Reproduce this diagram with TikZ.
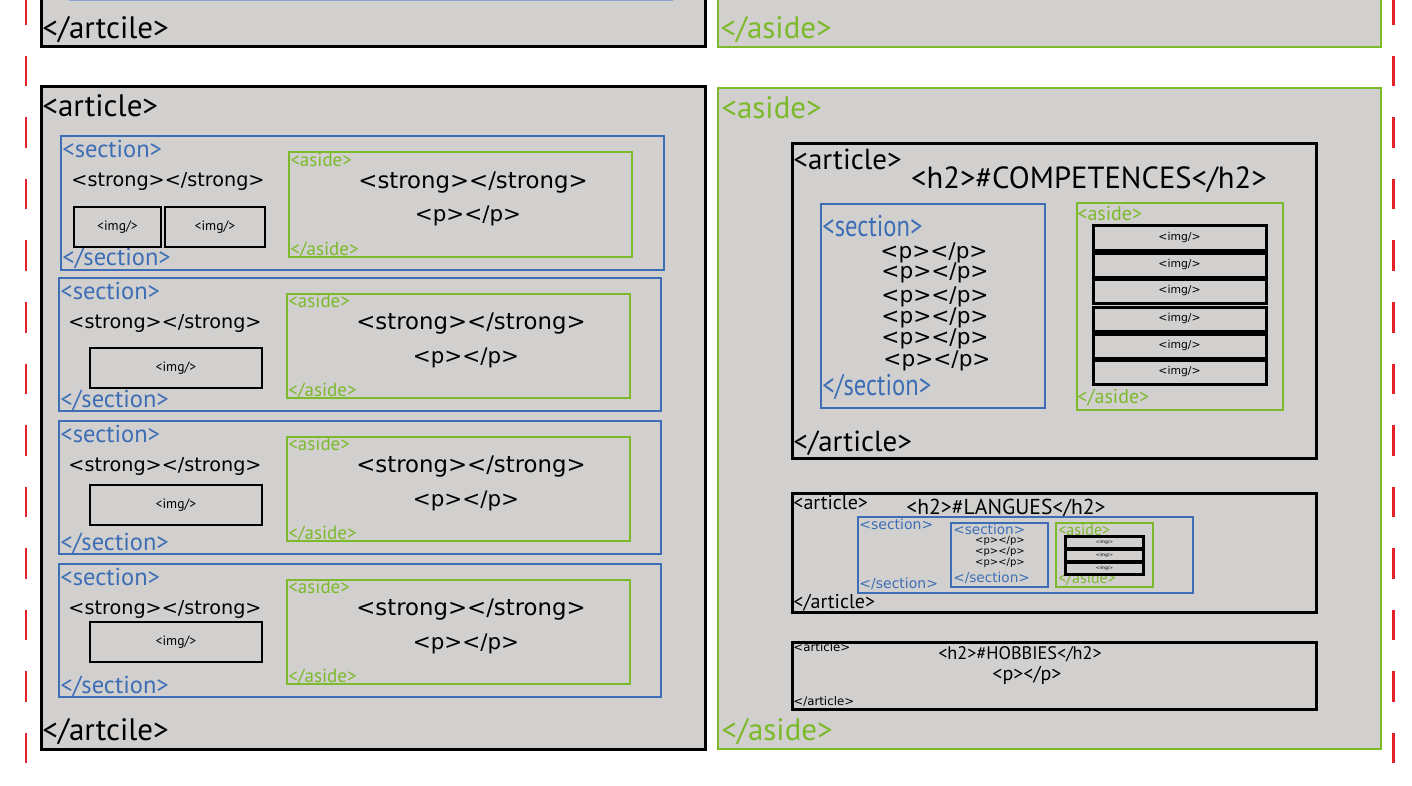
\documentclass[tikz,border=0pt]{standalone}
\usepackage{fontspec}
\setmainfont{PT Sans}
\newfontfamily\widef{DejaVu Sans}

\definecolor{pagegray}{HTML}{D1D0CF}
\definecolor{secblue}{HTML}{3D6EB5}
\definecolor{asidegreen}{HTML}{7CB92B}
\definecolor{guidered}{HTML}{E52129}
\definecolor{fadeblue}{HTML}{8BA5D6}

\newcommand{\fsz}[1]{\fontsize{#1}{#1}\selectfont}

\begin{document}
\begin{tikzpicture}[x=0.5pt,y=-0.5pt,
  artbox/.style={draw=black,line width=1.5pt,fill=pagegray},
  asidebox/.style={draw=asidegreen,line width=1.4pt},
  secbox/.style={draw=secblue,line width=1.4pt},
  imgbox/.style={draw=black,line width=1.4pt},
  guide/.style={draw=guidered,line width=1.4pt,dash pattern=on 15.25pt off 15.5pt},
  tagl/.style={anchor=west,inner sep=0pt},
  tagc/.style={inner sep=0pt}]
\useasboundingbox (0,0) rectangle (1412,786);
\clip (0,0) rectangle (1412,786);

% previous row, cut off at the top
\draw[artbox] (41,-20) rectangle (705,47);
\draw[fadeblue,line width=0.8pt] (69,0.5) -- (673,0.5);
\node[tagl] (prevend) at (42,30) {\fsz{15.5pt}</artcile>};
\draw[asidebox,fill=pagegray] (718,-20) rectangle (1381,47);
\node[tagl,text=asidegreen] (prevasideend) at (720,30) {\fsz{15.5pt}</aside>};

% guides
\draw[guide] (26,-5.5) -- (26,765);
\draw[guide] (1393.5,-5.5) -- (1393.5,765);

% left column: article
\draw[artbox] (41,87) rectangle (705,749);
\node[tagl] (artopen) at (42,106) {\fsz{15.5pt}<article>};
\node[tagl] (artclose) at (42,732) {\fsz{15.5pt}</artcile>};

% section 1 (two images)
\draw[secbox] (61,136) rectangle (664,270);
\node[tagl,text=secblue] (secAopen) at (62,149) {\fsz{12.25pt}<section>};
\node[tagl,text=secblue] (secAclose) at (62,258) {\fsz{12.25pt}</section>};
\node[tagc] (secAstrong) at (168,181) {\widef\fsz{9.6pt}<strong></strong>};
\draw[imgbox] (74,207) rectangle (161,247);
\node[tagc] (imgA1) at (117.5,227) {\fsz{6.8pt}<img/>};
\draw[imgbox] (165,207) rectangle (265,247);
\node[tagc] (imgA2) at (215,227) {\fsz{6.8pt}<img/>};
\draw[asidebox] (289,152) rectangle (632,257);
\node[tagl,text=asidegreen] (asAopen) at (290,160) {\fsz{9.5pt}<aside>};
\node[tagl,text=asidegreen] (asAclose) at (290,250) {\fsz{9.5pt}</aside>};
\node[tagc] (asAstrong) at (473,183) {\widef\fsz{11.4pt}<strong></strong>};
\node[tagc] (asApara) at (468,216) {\widef\fsz{10.7pt}<p></p>};

% sections 2 to 4
\foreach \t/\iy/\lw in {278/348/0.8pt,421/485/1.4pt,564/622/1.4pt}{
  \draw[secbox] (59,\t) rectangle (661,\t+133);
  \node[tagl,text=secblue] (sec\t open) at (60,\t+13) {\fsz{12.25pt}<section>};
  \node[tagl,text=secblue] (sec\t close) at (60,\t+122) {\fsz{12.25pt}</section>};
  \node[tagc] (sec\t strong) at (165,\t+45) {\widef\fsz{9.6pt}<strong></strong>};
  \draw[imgbox,line width=\lw] (90,\iy) rectangle (262,\iy+40);
  \node[tagc] (img\t) at (176,\iy+20) {\fsz{6.8pt}<img/>};
  \draw[asidebox] (287,\t+16) rectangle (630,\t+120);
  \node[tagl,text=asidegreen] (as\t open) at (288,\t+23) {\fsz{9.5pt}<aside>};
  \node[tagl,text=asidegreen] (as\t close) at (288,\t+113) {\fsz{9.5pt}</aside>};
  \node[tagc] (as\t strong) at (471,\t+46) {\widef\fsz{11.4pt}<strong></strong>};
  \node[tagc] (as\t para) at (466,\t+80) {\widef\fsz{10.7pt}<p></p>};
}

% right column: aside
\draw[asidebox,fill=pagegray] (718,88) rectangle (1381,749);
\node[tagl,text=asidegreen] (sideopen) at (721,108) {\fsz{15.5pt}<aside>};
\node[tagl,text=asidegreen] (sideclose) at (721,732) {\fsz{15.5pt}</aside>};

% competences
\draw[artbox] (792,144) rectangle (1316,458);
\node[tagl] (compopen) at (793,159) {\fsz{14.5pt}<article>};
\node[tagc] (comptitle) at (1089,180) {\fsz{15.3pt}<h2>\#COMPETENCES</h2>};
\node[tagl] (compclose) at (793,443) {\fsz{14.5pt}</article>};
\draw[secbox] (821,204) rectangle (1045,408);
\node[tagl,text=secblue] (compsecopen) at (822,226) {\scalebox{0.82}[1]{\fsz{15pt}<section>}};
\node[tagl,text=secblue] (compsecclose) at (822,387) {\scalebox{0.82}[1]{\fsz{15pt}</section>}};
\foreach \py/\px in {253/934,273/935,297/935,318/935,339/935,361/937}
  \node[tagc] (comppara\py) at (\px,\py) {\widef\fsz{10.8pt}<p></p>};
\draw[asidebox] (1077,203) rectangle (1283,410);
\node[tagl,text=asidegreen] (compasopen) at (1077,214) {\fsz{10pt}<aside>};
\node[tagl,text=asidegreen] (compasclose) at (1077,398) {\fsz{10pt}</aside>};
\foreach \iy in {226,253,279,307,334,360}{
  \draw[imgbox,line width=1.5pt] (1093,\iy) rectangle (1266,\iy+24);
  \node[tagc] (compimg\iy) at (1179.5,\iy+12) {\widef\fsz{5.4pt}<img/>};
}

% langues
\draw[artbox] (792,493) rectangle (1316,612);
\node[tagl] (langopen) at (793,503) {\fsz{10pt}<article>};
\node[tagc] (langtitle) at (1006,508) {\fsz{10.8pt}<h2>\#LANGUES</h2>};
\node[tagl] (langclose) at (793,603) {\fsz{10pt}</article>};
\draw[secbox,line width=1.2pt] (858,517) rectangle (1193,593);
\node[tagl,text=secblue] (langsecopen) at (859,524) {\widef\fsz{7pt}<section>};
\node[tagl,text=secblue] (langsecclose) at (859,584) {\widef\fsz{7pt}</section>};
\draw[secbox,line width=1.2pt] (951,523) rectangle (1048,587);
\node[tagl,text=secblue] (langsubopen) at (953,529) {\widef\fsz{6.8pt}<section>};
\node[tagl,text=secblue] (langsubclose) at (953,578) {\widef\fsz{6.8pt}</section>};
\foreach \py in {541,552,563}
  \node[tagc] (langpara\py) at (1000,\py) {\widef\fsz{5pt}<p></p>};
\draw[asidebox,line width=1.2pt] (1056,523) rectangle (1153,587);
\node[tagl,text=asidegreen] (langasopen) at (1058,530) {\fsz{8pt}<aside>};
\node[tagl,text=asidegreen] (langasclose) at (1058,579) {\fsz{8pt}</aside>};
\fill[black] (1064,535) rectangle (1145,576);
\foreach \by in {538,551,564}{
  \fill[pagegray] (1067,\by) rectangle (1142,\by+8.5);
  \node[tagc] (langimg\by) at (1104.5,\by+4.25) {\widef\fsz{2.2pt}<img/>};
}

% hobbies
\draw[artbox] (792,642) rectangle (1316,709);
\node[tagl] (hobopen) at (793,647) {\widef\fsz{5.9pt}<article>};
\node[tagc] (hobtitle) at (1020,654) {\fsz{9.1pt}<h2>\#HOBBIES</h2>};
\node[tagc] (hobpara) at (1027,675) {\fsz{10pt}<p></p>};
\node[tagl] (hobclose) at (793,702) {\widef\fsz{5.9pt}</article>};
\end{tikzpicture}
\end{document}
